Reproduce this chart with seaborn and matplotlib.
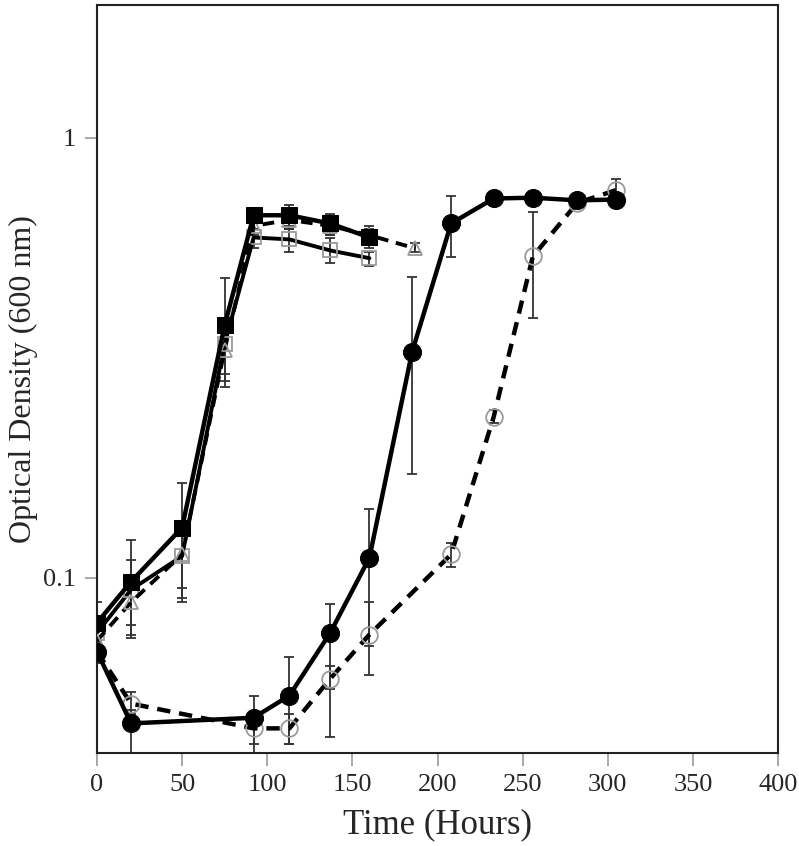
import numpy as np
import pandas as pd
import matplotlib
matplotlib.use("Agg")
import matplotlib.pyplot as plt
import seaborn as sns

# --- データ ---
# 黒四角・実線
sq_fill_x = [0, 20, 50, 75, 92, 113, 137, 160]
sq_fill_y = [0.079, 0.098, 0.130, 0.375, 0.666, 0.666, 0.638, 0.593]
sq_fill_lo = [0.071, 0.073, 0.088, 0.271, 0.62, 0.63, 0.60, 0.56]
sq_fill_hi = [0.088, 0.122, 0.164, 0.479, 0.69, 0.701, 0.672, 0.629]

# 白四角・実線
sq_open_x = [0, 20, 50, 75, 92, 113, 137, 160]
sq_open_y = [0.075, 0.094, 0.112, 0.34, 0.593, 0.587, 0.554, 0.532]
sq_open_lo = [0.070, 0.078, 0.090, 0.29, 0.56, 0.55, 0.52, 0.51]
sq_open_hi = [0.080, 0.110, 0.125, 0.39, 0.62, 0.62, 0.59, 0.55]

# 白三角・破線
tri_x = [0, 20, 50, 75, 92, 113, 137, 160, 187]
tri_y = [0.072, 0.088, 0.113, 0.33, 0.63, 0.65, 0.63, 0.60, 0.56]
tri_lo = [0.066, 0.074, 0.095, 0.28, 0.60, 0.62, 0.60, 0.58, 0.55]
tri_hi = [0.078, 0.100, 0.128, 0.38, 0.66, 0.68, 0.66, 0.62, 0.575]

# 黒丸・実線
ci_fill_x = [0, 20, 92, 113, 137, 160, 185, 208, 233, 256, 282, 305]
ci_fill_y = [0.068, 0.0467, 0.0481, 0.054, 0.075, 0.111, 0.325, 0.638, 0.727, 0.73, 0.72, 0.723]
ci_fill_lo = [0.064, 0.040, 0.040, 0.042, 0.0436, 0.060, 0.172, 0.535, 0.72, 0.72, 0.71, 0.71]
ci_fill_hi = [0.072, 0.050, 0.054, 0.066, 0.087, 0.143, 0.482, 0.738, 0.735, 0.74, 0.73, 0.735]

# 白丸・破線
ci_open_x = [0, 20, 92, 113, 137, 160, 208, 233, 256, 282, 305]
ci_open_y = [0.068, 0.0518, 0.0455, 0.0455, 0.059, 0.0743, 0.113, 0.232, 0.537, 0.71, 0.76]
ci_open_lo = [0.064, 0.049, 0.042, 0.042, 0.056, 0.070, 0.106, 0.225, 0.39, 0.70, 0.74]
ci_open_hi = [0.072, 0.055, 0.049, 0.049, 0.063, 0.088, 0.120, 0.24, 0.676, 0.72, 0.807]

x_ticks = [0, 50, 100, 150, 200, 250, 300, 350, 400]

sns.set_style("ticks")
plt.rcParams['font.family'] = ['Liberation Serif', 'DejaVu Serif']

fig = plt.figure(figsize=(7.99, 8.46), dpi=100)
ax = fig.add_axes([97 / 799, 1 - 753 / 846, (778 - 97) / 799, (753 - 5) / 846])

series = [
    # x, y, lo, hi, marker, filled, linestyle, linewidth, markersize
    (sq_open_x, sq_open_y, sq_open_lo, sq_open_hi, 's', False, '-', 2.8, 10),
    (tri_x, tri_y, tri_lo, tri_hi, '^', False, (0, (3, 2)), 2.8, 10),
    (sq_fill_x, sq_fill_y, sq_fill_lo, sq_fill_hi, 's', True, '-', 3.2, 11.5),
    (ci_open_x, ci_open_y, ci_open_lo, ci_open_hi, 'o', False, (0, (3, 2)), 3.2, 12),
    (ci_fill_x, ci_fill_y, ci_fill_lo, ci_fill_hi, 'o', True, '-', 3.2, 13),
]

for i, (xs, ys, lo, hi, mk, filled, ls, lw, ms) in enumerate(series):
    xs = np.array(xs, dtype=float)
    ys = np.array(ys)
    yerr = [ys - np.array(lo), np.array(hi) - ys]
    ax.errorbar(xs, ys, yerr=yerr, fmt='none', ecolor='#333333',
                elinewidth=1.3, capsize=3.8, capthick=1.3, zorder=1, clip_on=True)
    df = pd.DataFrame({'x': xs, 'y': ys})
    if filled:
        sns.lineplot(data=df, x='x', y='y', ax=ax, errorbar=None, color='black',
                     linewidth=lw, linestyle=ls, marker=mk, markersize=ms,
                     markerfacecolor='black', markeredgecolor='black', zorder=3 + i)
    else:
        sns.lineplot(data=df, x='x', y='y', ax=ax, errorbar=None, color='black',
                     linewidth=lw, linestyle=ls, marker=mk, markersize=ms,
                     markerfacecolor='none', markeredgecolor='#9a9a9a',
                     markeredgewidth=1.3, zorder=3 + i)

ax.set_yscale('log')
ax.set_xlim(0, 400)
ax.set_ylim(0.04, 2.0)
ax.set_xticks(x_ticks)
ax.set_xticklabels([str(t) for t in x_ticks])
ax.set_yticks([0.1, 1])
ax.set_yticklabels(['0.1', '1'])
ax.yaxis.set_minor_locator(matplotlib.ticker.NullLocator())

ax.tick_params(axis='both', which='major', direction='out', length=9, width=1.2,
               color='#999999', labelsize=19, pad=6)
for sp in ax.spines.values():
    sp.set_visible(True)
    sp.set_linewidth(1.5)
    sp.set_color('#222222')

ax.set_xlabel('Time (Hours)', fontsize=25, labelpad=9)
ax.set_ylabel('Optical Density (600 nm)', fontsize=23, labelpad=4)

fig.savefig('out.png', dpi=100, facecolor='white')
